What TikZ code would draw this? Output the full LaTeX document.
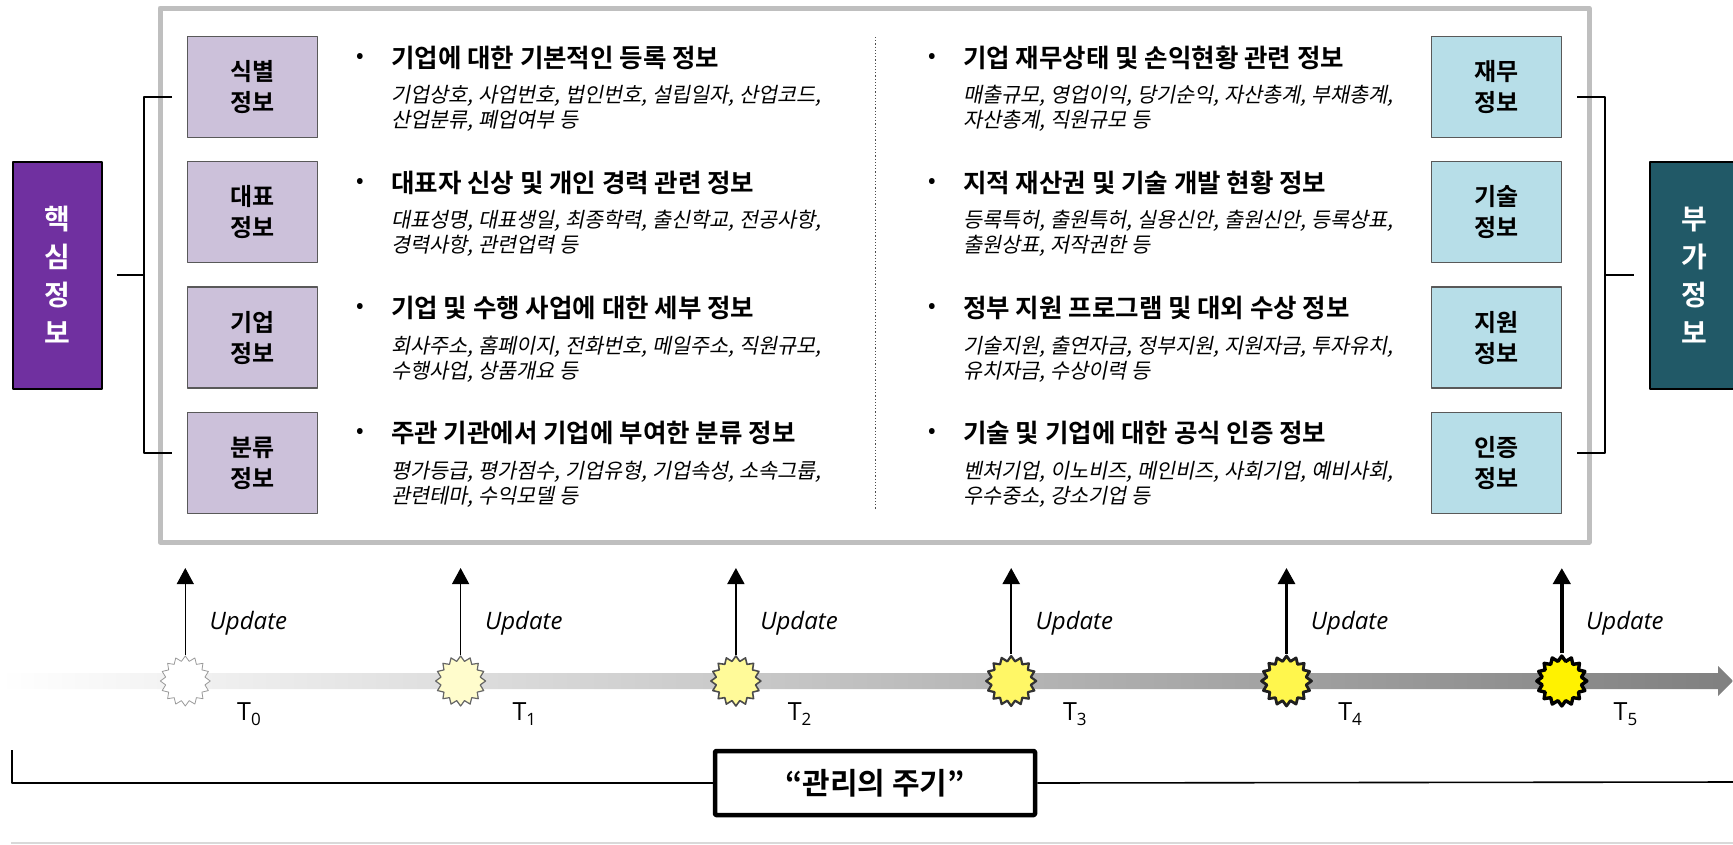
\documentclass[tikz,border=0pt]{standalone}
\usepackage{fontspec}
\setmainfont{Noto Sans CJK KR}[BoldFont={* Bold}]
\newfontfamily\krslant{Noto Sans CJK KR}[FakeSlant=0.2]
\newfontfamily\latin{Open Sans}
\usetikzlibrary{shapes.geometric,arrows.meta}
\definecolor{framegray}{HTML}{BFBFBF}
\definecolor{boxline}{HTML}{595959}
\definecolor{lavender}{HTML}{CCC1DA}
\definecolor{paleblue}{HTML}{B7DEE8}
\definecolor{corepurple}{HTML}{7030A0}
\definecolor{addteal}{HTML}{215967}
\definecolor{barend}{HTML}{808080}
\newcommand\fs[2]{\fontsize{#1}{#2}\selectfont}
\begin{document}
\begin{tikzpicture}[x=1pt, y=-1pt, line join=round, >=stealth,
	infobox/.style={draw=boxline, line width=1.3pt, minimum width=130pt, minimum height=101pt, inner sep=0pt, align=center, font=\bfseries\fs{24}{31}},
	sidebox/.style={draw=black, line width=2pt, minimum width=89pt, minimum height=227pt, inner sep=0pt, align=center, text=white, font=\bfseries\fs{28}{38}},
	bullet/.style={anchor=west, inner sep=0pt, font=\bfseries\fs{20}{20}},
	headtext/.style={anchor=west, inner sep=0pt, font=\bfseries\fs{25.5}{25.5}},
	subtext/.style={anchor=north west, inner sep=0pt, align=left, font=\krslant\fs{20.8}{25}},
	bracket/.style={line width=2pt},
	burst/.style={star, star points=16, star point ratio=1.25, minimum size=50pt, inner sep=0pt},
	updlabel/.style={anchor=west, inner sep=0pt, font=\latin\itshape\fs{24}{24}},
	tlabel/.style={anchor=base west, inner sep=0pt, font=\latin\fs{25}{25}}]
	\useasboundingbox (0,0) rectangle (1733,844);
	\draw[framegray, line width=5pt] (160,8) rectangle (1589,542);
	\draw[dotted, line width=1.2pt, black!70] (875.5,37) -- (875.5,510);
	% core side
	\foreach \lab/\head/\subA/\subB [count=\i from 0] in {
		식별/{기업에 대한 기본적인 등록 정보}/{기업상호, 사업번호, 법인번호, 설립일자, 산업코드,}/{산업분류, 폐업여부 등},
		대표/{대표자 신상 및 개인 경력 관련 정보}/{대표성명, 대표생일, 최종학력, 출신학교, 전공사항,}/{경력사항, 관련업력 등},
		기업/{기업 및 수행 사업에 대한 세부 정보}/{회사주소, 홈페이지, 전화번호, 메일주소, 직원규모,}/{수행사업, 상품개요 등},
		분류/{주관 기관에서 기업에 부여한 분류 정보}/{평가등급, 평가점수, 기업유형, 기업속성, 소속그룹,}/{관련테마, 수익모델 등}}
	{
		\node[infobox, fill=lavender] (cat\i) at (252.5,87+125.3*\i) {\lab\\정보};
		\node[bullet] (catb\i) at (356,57.5+125.3*\i) {•};
		\node[headtext] (cath\i) at (391,57.5+125.3*\i) {\head};
		\node[subtext] (cats\i) at (391,85+125.3*\i) {\subA\\\subB};
	}
	% added side
	\foreach \lab/\head/\subA/\subB [count=\i from 0] in {
		재무/{기업 재무상태 및 손익현황 관련 정보}/{매출규모, 영업이익, 당기순익, 자산총계, 부채총계,}/{자산총계, 직원규모 등},
		기술/{지적 재산권 및 기술 개발 현황 정보}/{등록특허, 출원특허, 실용신안, 출원신안, 등록상표,}/{출원상표, 저작권한 등},
		지원/{정부 지원 프로그램 및 대외 수상 정보}/{기술지원, 출연자금, 정부지원, 지원자금, 투자유치,}/{유치자금, 수상이력 등},
		인증/{기술 및 기업에 대한 공식 인증 정보}/{벤처기업, 이노비즈, 메인비즈, 사회기업, 예비사회,}/{우수중소, 강소기업 등}}
	{
		\node[infobox, fill=paleblue] (add\i) at (1496.7,87+125.3*\i) {\lab\\정보};
		\node[bullet] (addb\i) at (928,57.5+125.3*\i) {•};
		\node[headtext] (addh\i) at (963,57.5+125.3*\i) {\head};
		\node[subtext] (adds\i) at (963,85+125.3*\i) {\subA\\\subB};
	}
	\node[sidebox, fill=corepurple] (core) at (57,275) {핵\\심\\정\\보};
	\node[sidebox, fill=addteal] (extra) at (1694,275) {부\\가\\정\\보};
	% brackets
	\coordinate (lt) at (172,96.5);
	\coordinate (lb) at (172,453);
	\coordinate (lm) at (144.3,275);
	\draw[bracket] (lt) -| (lm) |- (lb);
	\draw[bracket] ([xshift=14pt]core.east) -- (lm);
	\coordinate (rt) at (1577,96.5);
	\coordinate (rb) at (1577,453);
	\coordinate (rm) at (1605,275);
	\draw[bracket] (rt) -| (rm) |- (rb);
	\draw[bracket] ([xshift=-15pt]extra.west) -- (rm);
	% time line
	\shade[left color=white, right color=barend] (0,673) -- (1718,673) -- (1718,666) -- (1733,681) -- (1718,696) -- (1718,689) -- (0,689) -- cycle;
	\foreach \fillc/\bord/\sw/\aw [count=\i from 0] in {white/40/0.8/1, yellow!20/60/1.2/1.3, yellow!40/70/1.6/1.7, yellow!60/80/2.2/2.2, yellow!70/88/2.8/2.9, yellow/100/3.4/4.2}
	{
		\node[burst, fill=\fillc, draw=black!\bord, line width=\sw pt] (s\i) at (185.3+275.3*\i,681) {};
		\coordinate (u\i) at (185.3+275.3*\i,568);
		\draw[-{Triangle[width=17pt,length=16pt]}, line width=\aw pt] (s\i.north) -- (u\i);
		\node[updlabel] (up\i) at (209.5+275.3*\i,623) {Update};
		\node[tlabel] (t\i) at (237+275.3*\i,720) {T\raisebox{-5pt}{\fs{17}{17}\i}};
	}
	% cycle
	\node[draw, line width=4.5pt, rounded corners=1pt, minimum width=320pt, minimum height=64pt, font=\bfseries\fs{30}{30}] (cycle) at (875,783) {“관리의 주기”};
	\coordinate (cl) at (12,750);
	\coordinate (cr) at (1735,782);
	\draw[line width=1.6pt] (cl) |- (cycle.west);
	\draw[line width=1.6pt] (cycle.east) -- (cr);
	\draw[black!15, line width=2pt] (11,843) -- (1735,843);
\end{tikzpicture}
\end{document}
